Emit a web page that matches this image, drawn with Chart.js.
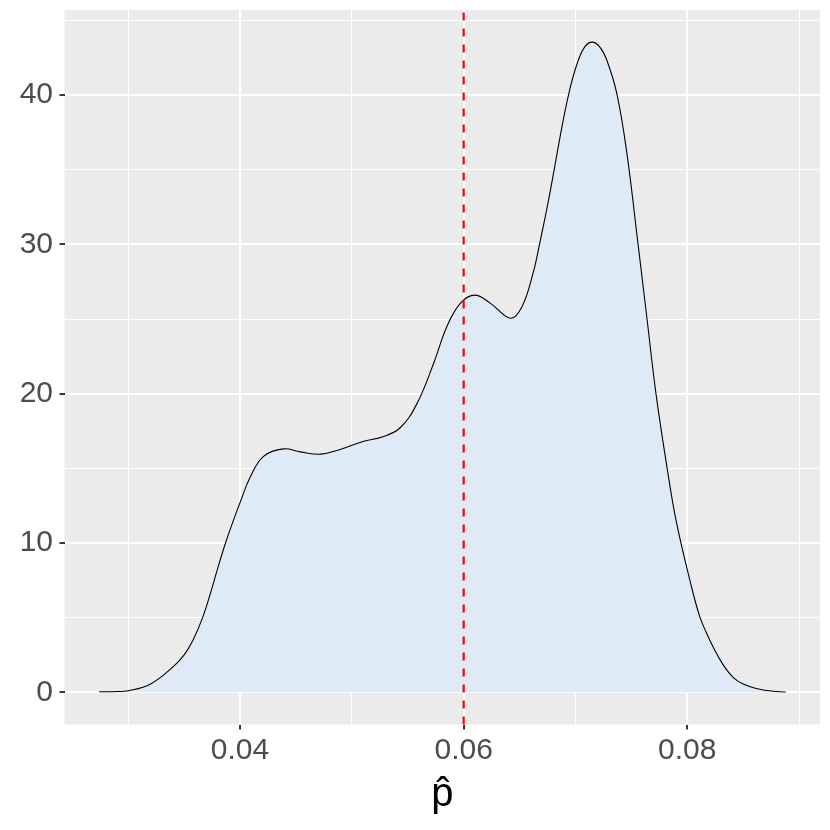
<!DOCTYPE html>
<html>
<head>
<meta charset="utf-8">
<script src="https://cdn.jsdelivr.net/npm/chart.js@4"></script>
<style>
  html, body { margin: 0; padding: 0; background: #ffffff; }
  #wrap { width: 830px; height: 830px; }
</style>
</head>
<body>
<div id="wrap"><canvas id="c" width="830" height="830"></canvas></div>
<script>
// ---- data (kernel density of p-hat) ----
const densityX = [0.0274, 0.0290, 0.0300, 0.0320, 0.0340, 0.0350, 0.0358, 0.0366, 0.0373, 0.0380,
                  0.0387, 0.0394, 0.0400, 0.0409, 0.0421, 0.0439, 0.0454, 0.0472, 0.0489, 0.0510,
                  0.0527, 0.0543, 0.0558, 0.0573, 0.0585, 0.0597, 0.0610, 0.0624, 0.0642, 0.0652,
                  0.0662, 0.0668, 0.0676, 0.0689, 0.0695, 0.0701, 0.0708, 0.0715, 0.0722, 0.0728,
                  0.0737, 0.0746, 0.0756, 0.0764, 0.0772, 0.0782, 0.0790, 0.0803, 0.0811, 0.0817,
                  0.0823, 0.0832, 0.0841, 0.0850, 0.0862, 0.0875, 0.0888];
const densityY = [0.03, 0.05, 0.10, 0.56, 1.7, 2.5, 3.5, 4.9, 6.5, 8.3,
                  10.0, 11.5, 12.7, 14.4, 15.8, 16.3, 16.1, 15.95, 16.25, 16.8,
                  17.1, 17.7, 19.3, 22.0, 24.5, 26.05, 26.6, 26.05, 25.05, 25.8,
                  28.06, 30.07, 33.0, 38.3, 40.4, 42.0, 43.2, 43.55, 43.2, 42.35,
                  40.1, 36.1, 30.0, 25.0, 20.0, 15.0, 11.5, 7.3, 5.1, 4.0,
                  3.05, 1.85, 1.0, 0.55, 0.25, 0.08, 0.02];
const vlineX = [0.06];

const xMajorTicks = [0.04, 0.06, 0.08];
const xMinorTicks = [0.03, 0.05, 0.07, 0.09];
const yMajorTicks = [0, 10, 20, 30, 40];
const yMinorTicks = [5, 15, 25, 35, 45];
const xLimits = [0.0243, 0.09187];
const yLimits = [-2.16, 45.7];
const xTitle = 'p\u0302';

// ---- helpers ----
const near = (a, b) => Math.abs(a - b) < 1e-9;
const isXMajor = v => xMajorTicks.some(m => near(m, v));
const isYMajor = v => yMajorTicks.some(m => near(m, v));

const panelBg = {
  id: 'panelBg',
  beforeDraw(chart) {
    const { ctx, chartArea: a } = chart;
    ctx.save();
    ctx.fillStyle = '#EBEBEB';
    ctx.fillRect(a.left, a.top, a.right - a.left, a.bottom - a.top);
    ctx.restore();
  }
};

const vline = {
  id: 'vline',
  afterDatasetsDraw(chart) {
    const { ctx, chartArea: a, scales } = chart;
    ctx.save();
    ctx.strokeStyle = '#FF0000';
    ctx.lineWidth = 2.2;
    ctx.setLineDash([8, 8]);
    vlineX.forEach(v => {
      const px = scales.x.getPixelForValue(v);
      ctx.beginPath();
      ctx.moveTo(px, a.bottom);
      ctx.lineTo(px, a.top);
      ctx.stroke();
    });
    ctx.restore();
  }
};

const FONT = "'Liberation Sans', Arial, Helvetica, sans-serif";

new Chart(document.getElementById('c'), {
  type: 'line',
  data: {
    datasets: [{
      data: densityX.map((x, i) => ({ x: x, y: densityY[i] })),
      fill: 'origin',
      backgroundColor: 'rgb(222,234,246)',
      borderColor: '#000000',
      borderWidth: 1.1,
      pointRadius: 0,
      tension: 0.4
    }]
  },
  options: {
    responsive: false,
    devicePixelRatio: 1,
    animation: false,
    layout: { padding: { top: 10, right: 10, left: 0, bottom: 0 } },
    plugins: { legend: { display: false }, tooltip: { enabled: false } },
    scales: {
      x: {
        type: 'linear',
        min: xLimits[0],
        max: xLimits[1],
        afterBuildTicks: s => { s.ticks = xMinorTicks.concat(xMajorTicks).sort((a, b) => a - b).map(v => ({ value: v })); },
        afterFit: s => { s.height = 105.5; s.paddingLeft = 0; s.paddingRight = 0; },
        border: { display: false },
        grid: {
          color: '#FFFFFF',
          lineWidth: c => isXMajor(c.tick.value) ? 2.1 : 1.05,
          tickColor: c => isXMajor(c.tick.value) ? '#333333' : 'rgba(0,0,0,0)',
          tickWidth: 2,
          tickLength: 5
        },
        ticks: {
          autoSkip: false,
          maxRotation: 0,
          padding: 3,
          color: '#4D4D4D',
          font: { family: FONT, size: 30 },
          callback: v => isXMajor(v) ? v.toFixed(2) : ''
        },
        title: {
          display: true,
          text: xTitle,
          color: '#000000',
          font: { family: FONT, size: 40 },
          padding: { top: 0, bottom: 11 }
        }
      },
      y: {
        type: 'linear',
        min: yLimits[0],
        max: yLimits[1],
        afterBuildTicks: s => { s.ticks = yMinorTicks.concat(yMajorTicks).sort((a, b) => a - b).map(v => ({ value: v })); },
        afterFit: s => { s.width = 64.5; s.paddingTop = 0; s.paddingBottom = 0; },
        border: { display: false },
        grid: {
          color: '#FFFFFF',
          lineWidth: c => isYMajor(c.tick.value) ? 2.1 : 1.05,
          tickColor: c => isYMajor(c.tick.value) ? '#333333' : 'rgba(0,0,0,0)',
          tickWidth: 2,
          tickLength: 5
        },
        ticks: {
          autoSkip: false,
          padding: 6.5,
          color: '#4D4D4D',
          font: { family: FONT, size: 30 },
          callback: v => isYMajor(v) ? String(v) : ''
        }
      }
    }
  },
  plugins: [panelBg, vline]
});
</script>
</body>
</html>
